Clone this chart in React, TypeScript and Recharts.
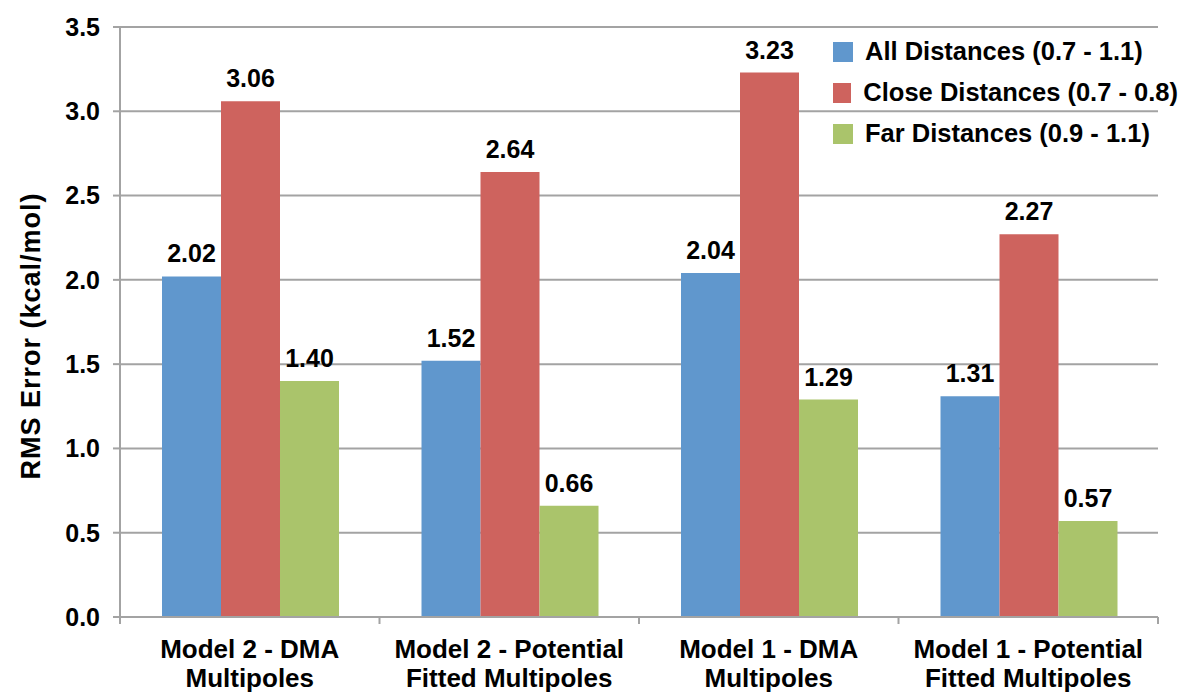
import React from 'react';
import { BarChart, Bar, XAxis, YAxis, CartesianGrid, Legend, LabelList, Label } from 'recharts';

const categories = [
    'Model 2 - DMA\nMultipoles',
    'Model 2 - Potential\nFitted Multipoles',
    'Model 1 - DMA\nMultipoles',
    'Model 1 - Potential\nFitted Multipoles',
];
const allDistances = [2.02, 1.52, 2.04, 1.31];
const closeDistances = [3.06, 2.64, 3.23, 2.27];
const farDistances = [1.4, 0.66, 1.29, 0.57];
const yTicks = [0, 0.5, 1, 1.5, 2, 2.5, 3, 3.5];

const series = [
    { key: 'all', name: 'All Distances (0.7 - 1.1)', color: '#6097cd' },
    { key: 'close', name: 'Close Distances (0.7 - 0.8)', color: '#ce635e' },
    { key: 'far', name: 'Far Distances (0.9 - 1.1)', color: '#aac46b' },
];

const FONT = '"Liberation Sans", Arial, sans-serif';
const AXIS_GRAY = '#a3a3a3';

const WIDTH = 1180;
const HEIGHT = 694;
const MARGIN = { top: 27, right: 22, bottom: 0, left: 0 };
const Y_AXIS_W = 120;
const X_AXIS_H = 77;
const PLOT_W = WIDTH - MARGIN.left - MARGIN.right - Y_AXIS_W;
const BAND = PLOT_W / categories.length;

const data = categories.map((name, i) => ({
    name,
    all: allDistances[i],
    close: closeDistances[i],
    far: farDistances[i],
}));

// two-line category labels, with Excel-style tick marks on the band edges
const CategoryTick = (props: any) => {
    const { x, y, payload, index } = props;
    const lines = String(payload.value).split('\n');
    const axisY = y - 8;
    const left = x - BAND / 2;
    const right = x + BAND / 2;
    return (
        <g>
            <line x1={left} x2={left} y1={axisY} y2={axisY + 7} stroke={AXIS_GRAY} strokeWidth={2} />
            {index === categories.length - 1 && (
                <line x1={right} x2={right} y1={axisY} y2={axisY + 7} stroke={AXIS_GRAY} strokeWidth={2} />
            )}
            {lines.map((line, i) => (
                <text
                    key={i}
                    x={x}
                    y={axisY + 41 + i * 29}
                    textAnchor="middle"
                    fontFamily={FONT}
                    fontWeight="bold"
                    fontSize={26}
                    fill="#000"
                >
                    {line}
                </text>
            ))}
        </g>
    );
};

const LegendBox = () => (
    <div style={{ fontFamily: FONT, fontWeight: 'bold', fontSize: 25.5, color: '#000' }}>
        {series.map(s => (
            <div key={s.key} style={{ display: 'flex', alignItems: 'center', height: 41 }}>
                <span style={{ width: 20, height: 20, background: s.color, marginRight: 12, display: 'inline-block' }} />
                <span style={{ whiteSpace: 'nowrap' }}>{s.name}</span>
            </div>
        ))}
    </div>
);

const YTitle = () => (
    <text
        x={31}
        y={336}
        transform="rotate(-90, 31, 336)"
        textAnchor="middle"
        dominantBaseline="central"
        fontFamily={FONT}
        fontWeight="bold"
        fontSize={27}
        letterSpacing={1}
        fill="#000"
    >
        RMS Error (kcal/mol)
    </text>
);

export default function App() {
    return (
        <div style={{ position: 'absolute', left: 0, top: 0, background: '#fff' }}>
            <BarChart
                width={WIDTH}
                height={HEIGHT}
                data={data}
                margin={MARGIN}
                barCategoryGap={42}
                barGap={0}
            >
                <CartesianGrid vertical={false} stroke={AXIS_GRAY} strokeWidth={2} />
                <XAxis
                    dataKey="name"
                    height={X_AXIS_H}
                    stroke={AXIS_GRAY}
                    strokeWidth={2}
                    tickLine={false}
                    tick={<CategoryTick />}
                    interval={0}
                />
                <YAxis
                    width={Y_AXIS_W}
                    domain={[0, 3.5]}
                    ticks={yTicks}
                    tickFormatter={(v: number) => v.toFixed(1)}
                    stroke={AXIS_GRAY}
                    strokeWidth={2}
                    tickSize={7}
                    tickMargin={13}
                    tick={{ fill: '#000', fontSize: 25, fontWeight: 'bold', fontFamily: FONT }}
                >
                    <Label content={<YTitle />} />
                </YAxis>
                {/* middle alignment keeps the legend from shrinking the plot */}
                <Legend
                    verticalAlign="middle"
                    content={<LegendBox />}
                    wrapperStyle={{ left: 833, top: 31, width: 345 }}
                />
                {series.map(s => (
                    <Bar key={s.key} dataKey={s.key} name={s.name} fill={s.color} isAnimationActive={false}>
                        <LabelList
                            dataKey={s.key}
                            position="top"
                            offset={14}
                            formatter={(v: number) => v.toFixed(2)}
                            fill="#000"
                            fontSize={25}
                            fontWeight="bold"
                            fontFamily={FONT}
                        />
                    </Bar>
                ))}
            </BarChart>
        </div>
    );
}
